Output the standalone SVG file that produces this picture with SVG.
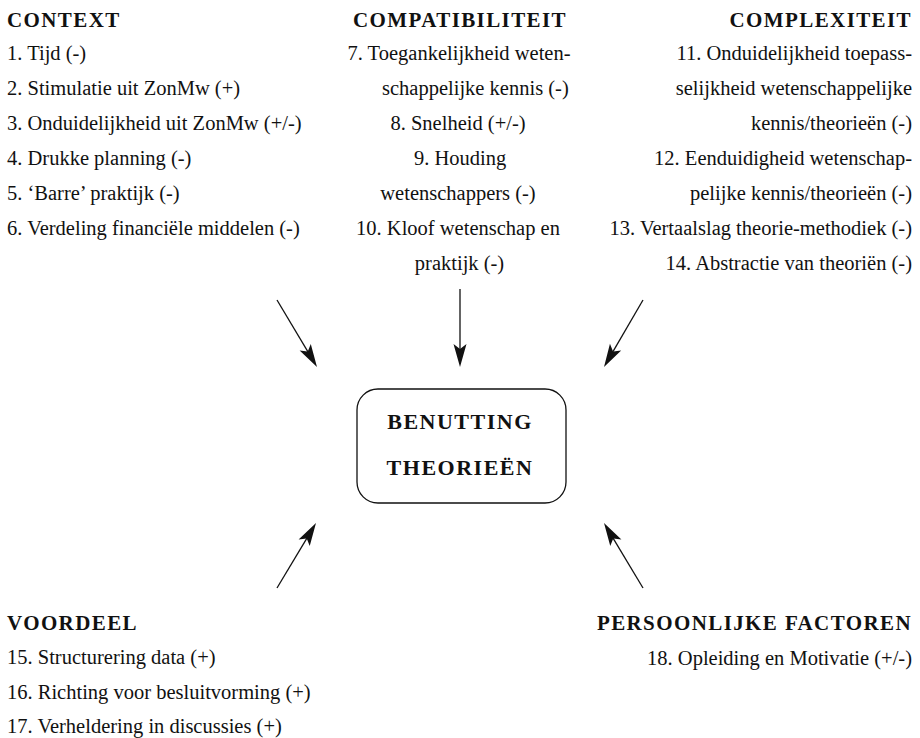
<svg xmlns="http://www.w3.org/2000/svg" width="920" height="738" viewBox="0 0 920 738" xml:space="preserve">
<style>
.h{font-family:"Liberation Serif","DejaVu Serif",serif;font-weight:bold;font-size:21px;letter-spacing:1.4px;fill:#111}
.t{font-family:"Liberation Serif","DejaVu Serif",serif;font-size:20.5px;fill:#111}
.c{font-family:"Liberation Serif","DejaVu Serif",serif;font-weight:bold;font-size:22px;letter-spacing:1.5px;fill:#111}
.m{text-anchor:middle}
.e{text-anchor:end}
.ln{stroke:#111;stroke-width:1.3;fill:none}
.box{fill:#fff;stroke:#111;stroke-width:1.3}
</style>
<defs>
<marker id="ah" markerUnits="userSpaceOnUse" markerWidth="30" markerHeight="20" refX="0" refY="0" orient="auto" overflow="visible">
<path d="M10,0 L-13,-6.5 L-8,0 L-13,6.5 Z" fill="#111"/>
</marker>
</defs>
<g id="context">
<text class="h" x="7" y="27">CONTEXT</text>
<text class="t" x="7" y="60">1. Tijd (-)</text>
<text class="t" x="7" y="95">2. Stimulatie uit ZonMw (+)</text>
<text class="t" x="7" y="130">3. Onduidelijkheid uit ZonMw (+/-)</text>
<text class="t" x="7" y="165">4. Drukke planning (-)</text>
<text class="t" x="7" y="200">5. ‘Barre’ praktijk (-)</text>
<text class="t" x="7" y="235">6. Verdeling financiële middelen (-)</text>
</g>
<g id="compatibiliteit">
<text class="h m" x="460" y="27">COMPATIBILITEIT</text>
<text class="t m" x="459" y="60">7. Toegankelijkheid weten-</text>
<text class="t" x="382" y="95">schappelijke kennis (-)</text>
<text class="t m" x="458" y="130">8.  Snelheid (+/-)</text>
<text class="t m" x="460" y="165">9.  Houding</text>
<text class="t m" x="458" y="200">wetenschappers (-)</text>
<text class="t m" x="458" y="235">10. Kloof wetenschap en</text>
<text class="t m" x="459.5" y="270">praktijk (-)</text>
</g>
<g id="complexiteit">
<text class="h e" x="912" y="27">COMPLEXITEIT</text>
<text class="t e" x="912" y="60">11. Onduidelijkheid toepass-</text>
<text class="t e" x="912" y="95">selijkheid wetenschappelijke</text>
<text class="t e" x="912" y="130">kennis/theorieën (-)</text>
<text class="t e" x="912" y="165">12. Eenduidigheid wetenschap-</text>
<text class="t e" x="912" y="200">pelijke kennis/theorieën (-)</text>
<text class="t e" x="912" y="235">13. Vertaalslag theorie-methodiek (-)</text>
<text class="t e" x="912" y="270">14.  Abstractie van theoriën (-)</text>
</g>
<g id="benutting">
<rect class="box" x="357" y="389" width="209" height="114" rx="21" ry="21"/>
<text class="c m" x="460" y="429">BENUTTING</text>
<text class="c m" x="460" y="475">THEORIEËN</text>
</g>
<g id="voordeel">
<text class="h" x="7" y="630">VOORDEEL</text>
<text class="t" x="7" y="664">15. Structurering data (+)</text>
<text class="t" x="7" y="699">16. Richting voor besluitvorming (+)</text>
<text class="t" x="7" y="733">17. Verheldering in discussies (+)</text>
</g>
<g id="persoonlijke">
<text class="h e" x="912" y="630">PERSOONLIJKE FACTOREN</text>
<text class="t e" x="912" y="665">18. Opleiding en Motivatie (+/-)</text>
</g>
<g id="connectors">
<line class="ln" x1="277" y1="300" x2="311.87" y2="358.41" marker-end="url(#ah)"/>
<line class="ln" x1="460" y1="289" x2="460" y2="357" marker-end="url(#ah)"/>
<line class="ln" x1="643" y1="300" x2="609.03" y2="358.36" marker-end="url(#ah)"/>
<line class="ln" x1="277" y1="588" x2="310.85" y2="531.58" marker-end="url(#ah)"/>
<line class="ln" x1="643" y1="588" x2="609.15" y2="531.58" marker-end="url(#ah)"/>
</g>
</svg>
